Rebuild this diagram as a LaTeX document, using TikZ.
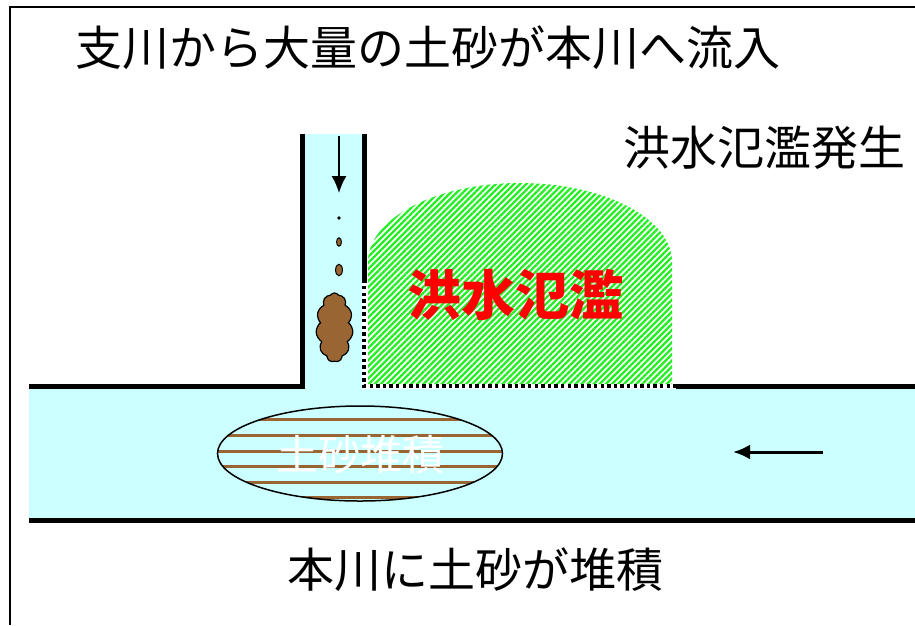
\documentclass[tikz,border=0pt]{standalone}
\usepackage{fontspec}
\setmainfont{Noto Sans CJK JP}
\usetikzlibrary{arrows.meta,patterns.meta,shapes.symbols,shapes.geometric}
\definecolor{water}{HTML}{CCFFFF}
\definecolor{soil}{HTML}{996633}
\definecolor{flood}{HTML}{22EE22}
\tikzset{
  bank/.style={line width=5pt, line join=miter},
  dotbank/.style={line width=3.5pt, dash pattern=on 3.4pt off 3.2pt},
  lbl/.style={inner sep=0pt, font=\fontsize{47}{56}\selectfont},
  flowarrow/.style={-{Latex[length=17pt,width=15pt]}},
}
\begin{document}
\begin{tikzpicture}[x=1pt,y=-1pt]
\useasboundingbox (0,0) rectangle (915,625);
% frame
\draw[line width=2pt] (915,7) -- (10,7) -- (10,625);
% water
\fill[water] (29,389) rectangle (915,518);
\fill[water] (304,134) rectangle (362,389);
% flood area
\path[pattern={Lines[angle=45,distance=4.3pt,line width=2.3pt]}, pattern color=flood]
  (368,384) -- (368,262) arc[start angle=180,end angle=360,x radius=152,y radius=79] -- (672,384) -- cycle;
% banks
\draw[bank] (29,386.5) -- (302,386.5) -- (302,134);
\draw[bank] (364,134) -- (364,283);
\draw[dotbank] (364,286) -- (364,386) -- (676,386);
\draw[bank] (676,386.5) -- (915,386.5);
\draw[bank] (29,520) -- (915,520);
% tributary arrow and sediment
\coordinate (ta) at (339,136);
\coordinate (tb) at (339,193);
\draw[line width=1.6pt, flowarrow] (ta) -- (tb);
\fill (339,218) circle[radius=1.8];
\filldraw[fill=soil, line width=1pt] (339,242) ellipse[x radius=2.4, y radius=4.2];
\filldraw[fill=soil, line width=1pt] (339,270) ellipse[x radius=3.4, y radius=5.8];
\node (blob) [cloud, cloud puffs=11, cloud puff arc=110, aspect=0.55, draw, line width=1.2pt, fill=soil,
  minimum width=37pt, minimum height=69pt, inner sep=0pt] at (334.5,327.5) {};
% main arrow
\coordinate (ma) at (823,452);
\coordinate (mb) at (733,452);
\draw[line width=3pt, flowarrow] (ma) -- (mb);
% deposit ellipse
\begin{scope}
\clip (360,453.5) ellipse[x radius=142, y radius=47.5];
\fill[water] (200,400) rectangle (520,510);
\foreach \yy in {419,435,451,466.5,482,497.5}
  \draw[soil, line width=3pt] (210,\yy) -- (510,\yy);
\end{scope}
\node (dep) [ellipse, draw, line width=1.5pt, minimum width=285pt, minimum height=95pt, inner sep=0pt] at (360,453.5) {};
\node (deptxt) [inner sep=0pt, text=white, font=\fontsize{42}{50}\selectfont] at (360,455) {土砂堆積};
% labels
\node (title) [lbl] at (428,48) {支川から大量の土砂が本川へ流入};
\node (occur) [lbl] at (764,148) {洪水氾濫発生};
\node (bottom) [lbl] at (475,570) {本川に土砂が堆積};
\node (flood) [inner sep=0pt, text=red, font=\fontsize{54}{60}\selectfont\bfseries] at (515,295) {洪水氾濫};
\end{tikzpicture}
\end{document}
